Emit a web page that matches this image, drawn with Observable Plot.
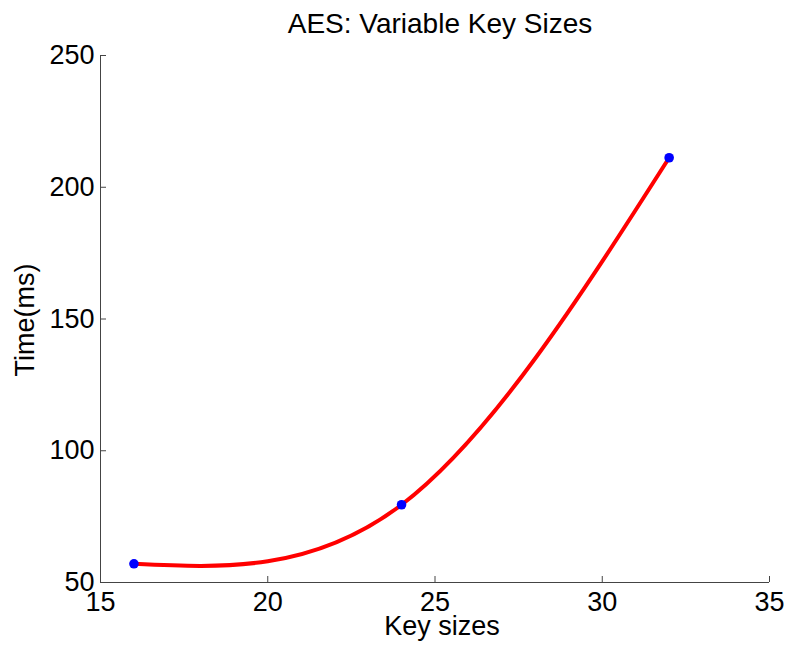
<!DOCTYPE html>
<html>
<head>
<meta charset="utf-8">
<script src="https://cdn.jsdelivr.net/npm/d3@7"></script>
<script src="https://cdn.jsdelivr.net/npm/@observablehq/plot@0.6"></script>
<style>
  html, body { margin: 0; padding: 0; background: #fff; }
  #wrap { width: 787px; height: 645px; position: relative; font-family: "Liberation Sans", Arial, Helvetica, sans-serif; }
  #title { box-sizing: border-box; width: 787px; height: 36px; padding-left: 93px; padding-top: 10px;
           text-align: center; font-size: 28px; line-height: 27px; color: #000; }
</style>
</head>
<body>
<div id="wrap">
  <div id="title">AES: Variable Key Sizes</div>
  <div id="chart"></div>
</div>
<script>
const titleText = "AES: Variable Key Sizes";
const xLabel = "Key sizes";
const yLabel = "Time(ms)";
const keySizes = [16, 24, 32];
const times = [57.1, 79.5, 211.2];
const xTicks = [15, 20, 25, 30, 35];
const yTicks = [50, 100, 150, 200, 250];

const data = keySizes.map((k, i) => ({k, t: times[i]}));
const axisColor = "#444";

const chart = Plot.plot({
  width: 787,
  height: 609,
  marginTop: 19,
  marginBottom: 63,
  marginLeft: 100,
  marginRight: 18,
  style: {fontFamily: "'Liberation Sans', Arial, Helvetica, sans-serif", fontSize: "27px", color: "#000", background: "#fff"},
  x: {domain: [15, 35]},
  y: {domain: [50, 250]},
  marks: [
    Plot.ruleY([50], {stroke: axisColor, strokeWidth: 1}),
    Plot.ruleX([15], {stroke: axisColor, strokeWidth: 1}),
    Plot.axisX({ticks: xTicks, tickSize: -6, tickPadding: 15, stroke: axisColor, fill: "#000", fontSize: 27, label: null}),
    Plot.axisY({ticks: yTicks, tickSize: -6, tickPadding: 12, stroke: axisColor, fill: "#000", fontSize: 27, label: null}),
    Plot.line(data, {x: "k", y: "t", curve: "natural", stroke: "#ff0000", strokeWidth: 4}),
    Plot.dot(data, {x: "k", y: "t", r: 4.8, fill: "#0000ff", stroke: "none"}),
    Plot.text([xLabel], {frameAnchor: "bottom", textAnchor: "middle", lineAnchor: "middle", dy: 44, dx: 7, fontSize: 27, fill: "#000"}),
    Plot.text([yLabel], {frameAnchor: "left", textAnchor: "middle", lineAnchor: "middle", rotate: -90, dx: -75, dy: 1, fontSize: 27, fill: "#000"})
  ]
});
document.getElementById("chart").appendChild(chart);
</script>
</body>
</html>
